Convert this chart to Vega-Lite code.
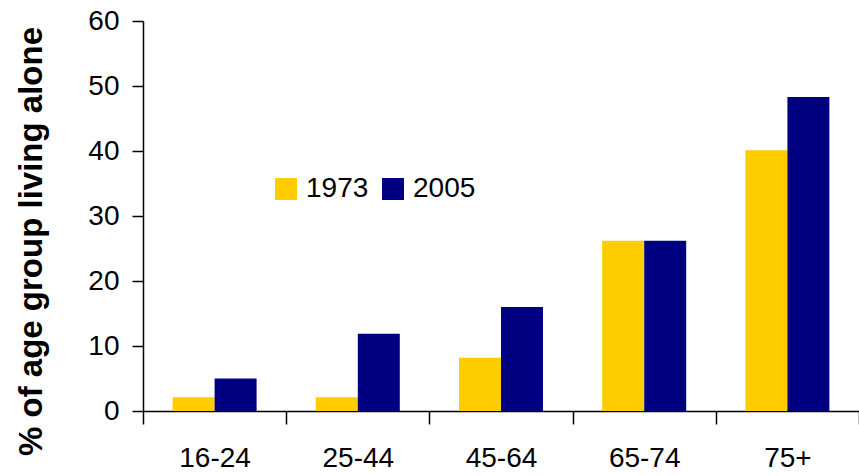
{
  "$schema": "https://vega.github.io/schema/vega-lite/v6.json",
  "width": 716,
  "height": 390,
  "autosize": {"type": "none"},
  "padding": {"left": 143, "top": 21, "right": 0, "bottom": 65},
  "background": "white",
  "config": {
    "font": "Liberation Sans",
    "view": {"stroke": null}
  },
  "data": {
    "values": [
      {"age": "16-24", "year": "1973", "pct": 2.1},
      {"age": "16-24", "year": "2005", "pct": 5.0},
      {"age": "25-44", "year": "1973", "pct": 2.1},
      {"age": "25-44", "year": "2005", "pct": 11.9},
      {"age": "45-64", "year": "1973", "pct": 8.2},
      {"age": "45-64", "year": "2005", "pct": 16.0},
      {"age": "65-74", "year": "1973", "pct": 26.2},
      {"age": "65-74", "year": "2005", "pct": 26.2},
      {"age": "75+", "year": "1973", "pct": 40.1},
      {"age": "75+", "year": "2005", "pct": 48.3}
    ]
  },
  "mark": {"type": "bar"},
  "encoding": {
    "x": {
      "field": "age",
      "type": "nominal",
      "sort": null,
      "scale": {"paddingInner": 0, "paddingOuter": 0},
      "axis": {
        "title": null,
        "labelAngle": 0,
        "labelFontSize": 28,
        "labelColor": "black",
        "labelPadding": 20,
        "tickBand": "extent",
        "tickSize": 13,
        "tickColor": "black",
        "tickWidth": 1.5,
        "domainColor": "black",
        "domainWidth": 1.5
      }
    },
    "xOffset": {
      "field": "year",
      "type": "nominal",
      "scale": {"paddingInner": 0, "paddingOuter": 0.705}
    },
    "y": {
      "field": "pct",
      "type": "quantitative",
      "scale": {"domain": [0, 60]},
      "axis": {
        "title": "% of age group living alone",
        "titleFontSize": 33,
        "titleFontWeight": "bold",
        "titleColor": "black",
        "titleX": -112,
        "titleY": 220,
        "titleAlign": "center",
        "titleBaseline": "middle",
        "titleAngle": 270,
        "values": [0, 10, 20, 30, 40, 50, 60],
        "grid": false,
        "labelFontSize": 28,
        "labelColor": "black",
        "labelPadding": 13,
        "tickSize": 11,
        "tickColor": "black",
        "tickWidth": 1.5,
        "domainColor": "black",
        "domainWidth": 1.5
      }
    },
    "color": {
      "field": "year",
      "type": "nominal",
      "scale": {"domain": ["1973", "2005"], "range": ["#FFCC00", "#000080"]},
      "legend": {
        "title": null,
        "orient": "none",
        "legendX": 129,
        "legendY": 154,
        "direction": "horizontal",
        "symbolType": "square",
        "symbolSize": 484,
        "symbolStrokeWidth": 0,
        "labelFontSize": 28,
        "labelColor": "black",
        "labelOffset": 6,
        "columnPadding": 10,
        "padding": 0
      }
    }
  }
}
